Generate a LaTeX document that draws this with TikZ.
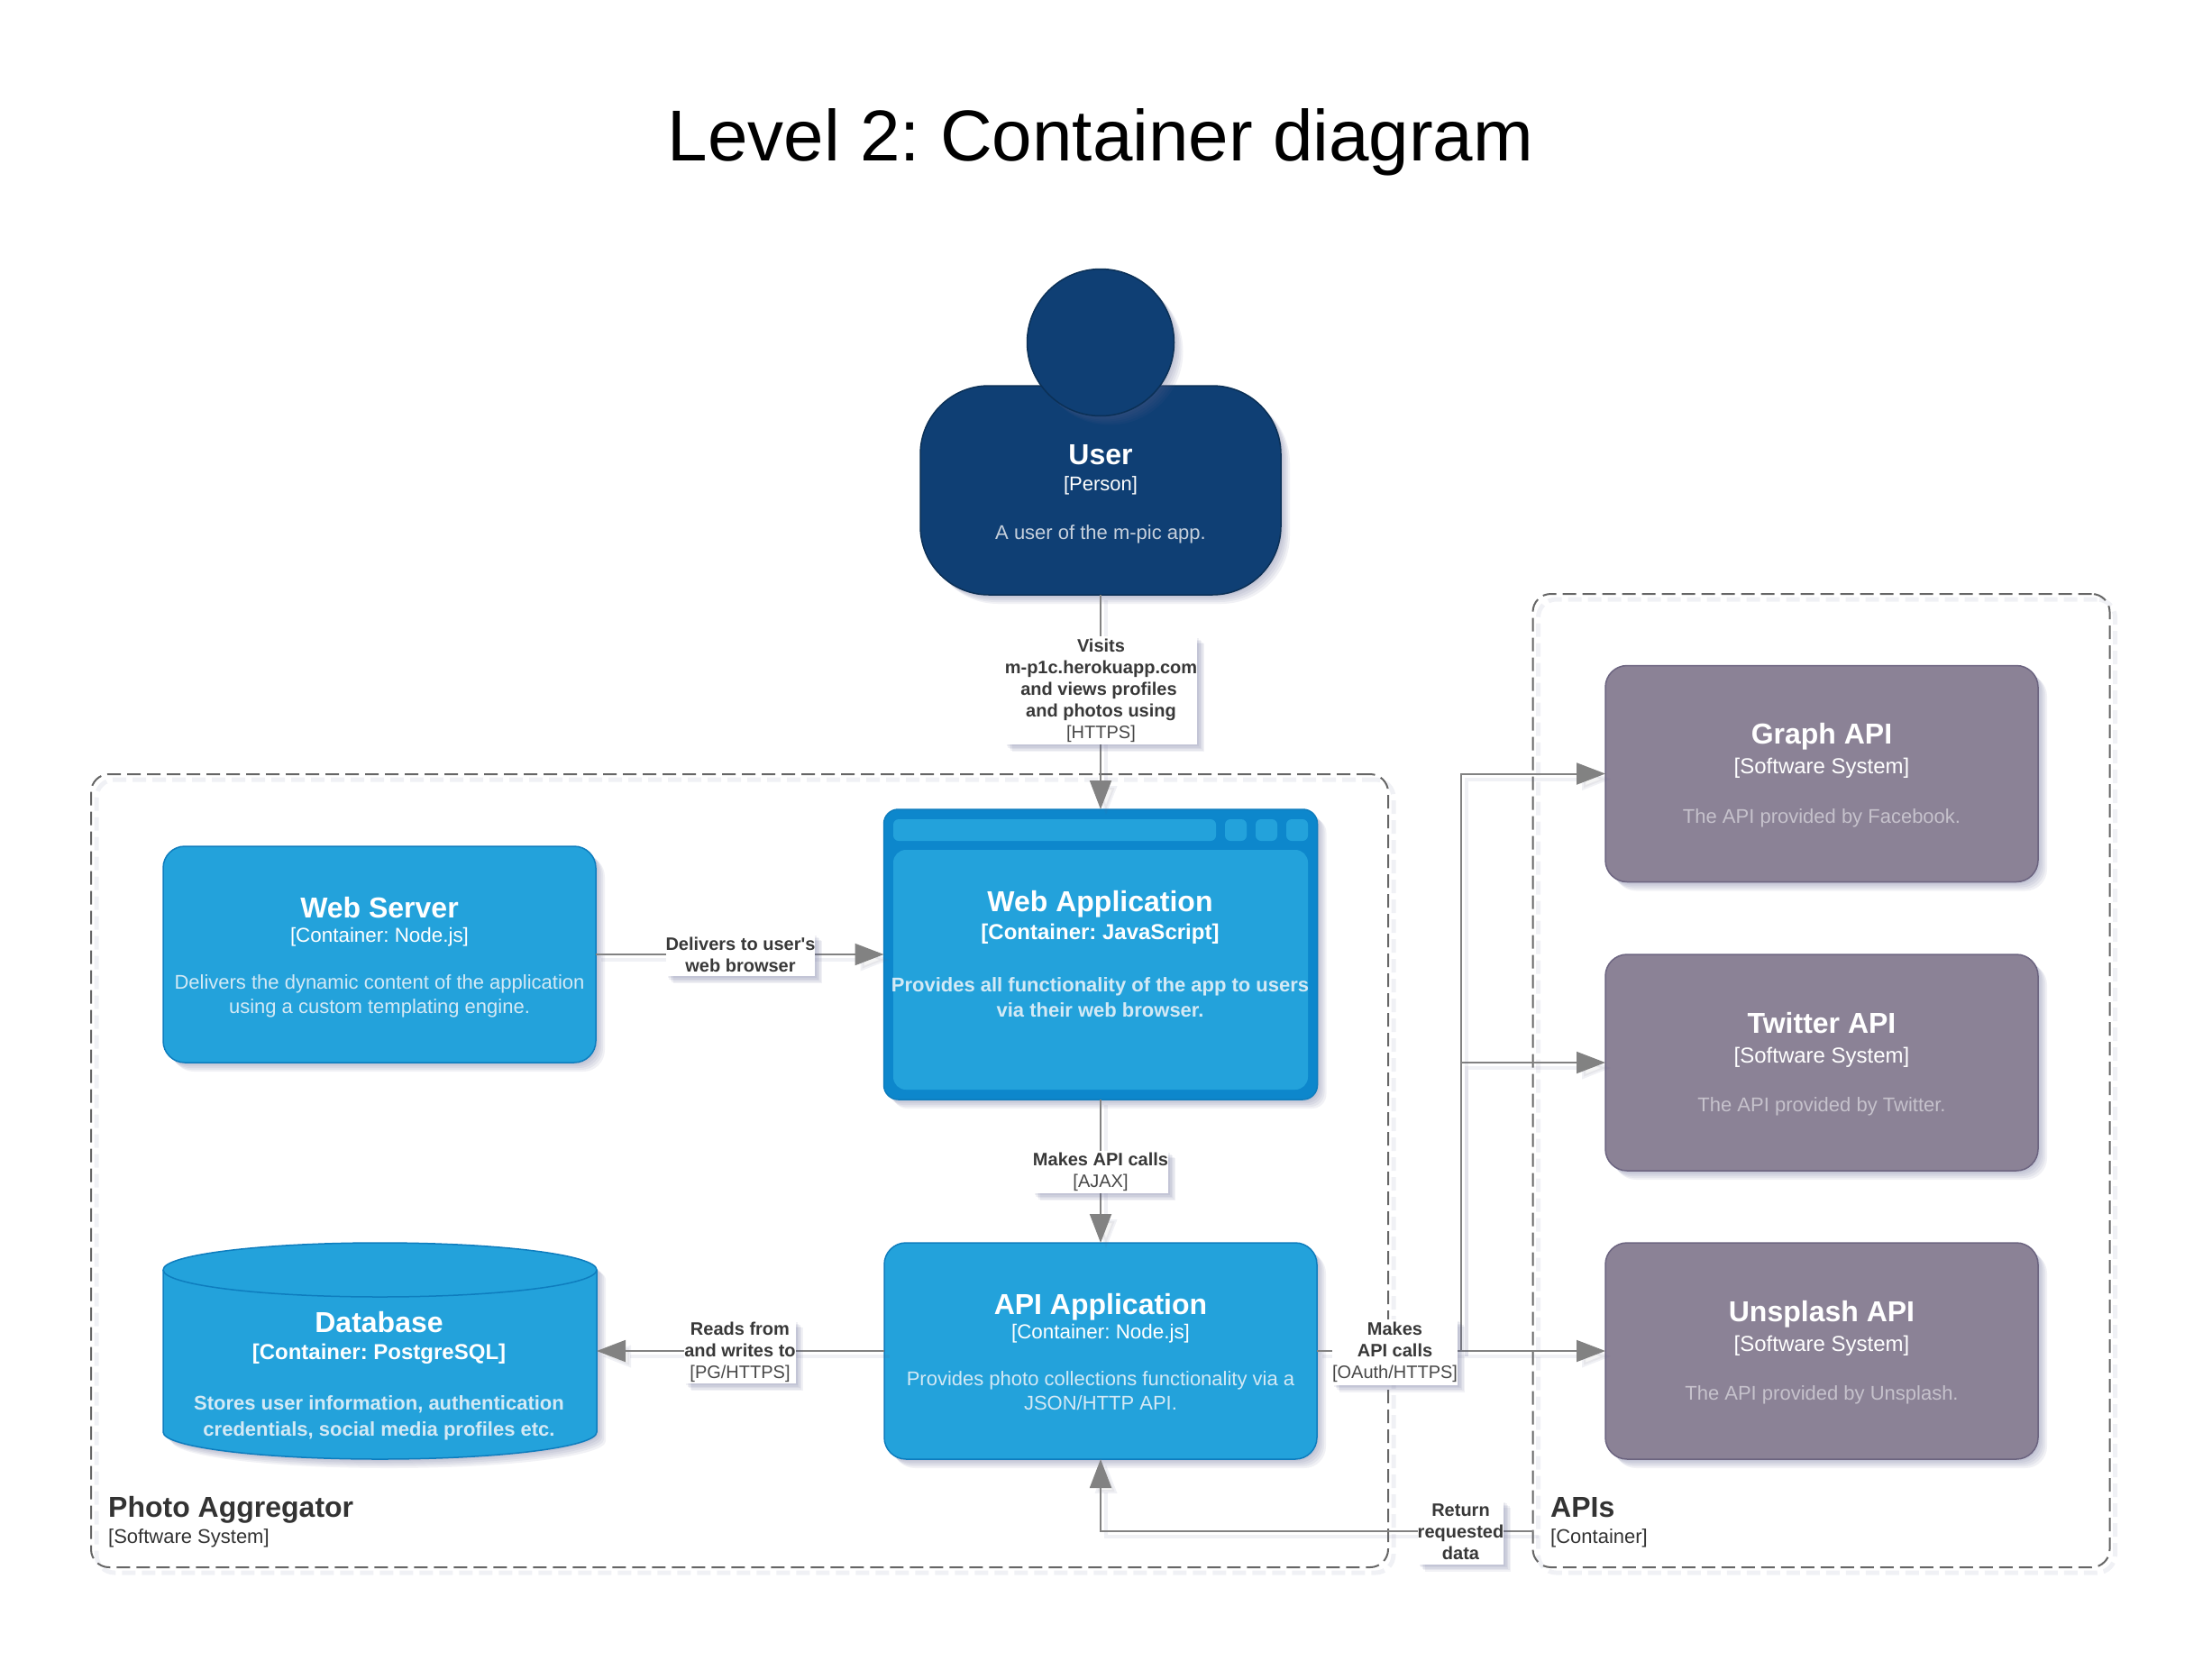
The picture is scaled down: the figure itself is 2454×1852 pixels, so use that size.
\documentclass[tikz,border=0pt]{standalone}
\usepackage{fontspec}
\setmainfont{Liberation Sans}
\newfontfamily\plainft{Liberation Sans}
\frenchspacing
\usetikzlibrary{arrows.meta,shapes.geometric,shadows,calc}
\definecolor{shc}{HTML}{5A5F8C}
\definecolor{linec}{HTML}{828282}
\definecolor{personfill}{HTML}{0F3F74}
\definecolor{personline}{HTML}{0B3056}
\definecolor{contfill}{HTML}{23A2DB}
\definecolor{contline}{HTML}{0E7DBE}
\definecolor{webouter}{HTML}{0D87CC}
\definecolor{extfill}{HTML}{8B8296}
\definecolor{extline}{HTML}{6C6480}
\definecolor{descblue}{HTML}{D3E9F5}
\definecolor{descpurple}{HTML}{C6C2CC}
\definecolor{descuser}{HTML}{C6D0DC}
\definecolor{lbltext}{HTML}{383838}
\definecolor{techtext}{HTML}{484848}
\definecolor{bndline}{HTML}{666666}
\definecolor{bndtext}{HTML}{333333}
\newcommand\ttlx[2][24pt]{{\fontsize{32}{38}\selectfont\bfseries\rule{0pt}{#1}#2}}
\newcommand\szr[2]{{\fontsize{#1}{28}\selectfont #2}}
\newcommand\szb[2]{{\fontsize{#1}{28}\selectfont\bfseries #2}}
\newcommand\lblb[1]{{\bfseries\color{lbltext}#1}}
\newcommand\lblt[1]{{\color{techtext}#1}}
\tikzset{
  shlayer/.style={general shadow={shadow xshift=#1,shadow yshift=-#1,fill=shc,draw=none,opacity=.085}},
  softsh/.style={shlayer=2pt,shlayer=4pt,shlayer=6pt,shlayer=8pt,shlayer=10pt},
  lblsh/.style={shlayer=2pt,shlayer=3.5pt,shlayer=5pt,shlayer=6.5pt,shlayer=8pt},
  basebox/.style={rectangle,outer sep=0pt,inner sep=0pt,line width=1.5pt,align=center,text=white,
    font=\fontsize{22}{28}\selectfont},
  contbox/.style={basebox,softsh,draw=contline,fill=contfill,rounded corners=24pt,minimum width=480pt,minimum height=240pt},
  extbox/.style={basebox,softsh,draw=extline,fill=extfill,rounded corners=24pt,minimum width=480pt,minimum height=240pt},
  freetext/.style={align=center,inner sep=0pt,text=white,font=\fontsize{22}{28}\selectfont},
  bndbox/.style={rectangle,outer sep=0pt,draw=bndline,line width=2pt,dash pattern=on 15pt off 7pt,rounded corners=20pt,
    general shadow={shadow xshift=6pt,shadow yshift=-6pt,draw=shc,opacity=.09,line width=5pt,fill=none}},
  bndtitle/.style={anchor=base west,inner sep=0pt,text=bndtext,font=\fontsize{32}{38}\selectfont\bfseries},
  bndsub/.style={anchor=base west,inner sep=0pt,text=bndtext,font=\fontsize{22}{26}\selectfont},
  edgelbl/.style={lblsh,rectangle,fill=white,inner sep=0pt,outer sep=0pt,align=center,
    font=\fontsize{20}{24}\selectfont},
  conn/.style={draw=linec,line width=2pt,-{Triangle[length=32pt,width=24pt,fill=linec]},
    general shadow={shadow xshift=6pt,shadow yshift=-6pt,draw=shc,opacity=.09,line width=4pt}},
  webpart/.style={rectangle,fill=contfill,draw=none,outer sep=0pt,inner sep=0pt,rounded corners=6pt},
}
\begin{document}
\begin{tikzpicture}[x=1pt,y=-1pt]
\useasboundingbox (0,0) rectangle (2454,1852);
% title
\node[anchor=center,inner sep=0pt,font=\fontsize{80}{90}\selectfont] (title) at (1221,158) {Level 2: Container diagram};
% boundaries
\node[bndbox,minimum width=1439pt,minimum height=880pt] (photo) at (820.5,1299) {};
\node[bndbox,minimum width=640pt,minimum height=1080pt] (apis) at (2020.5,1199) {};
\node[bndtitle] (photot) at (120,1683) {Photo Aggregator};
\node[bndsub] (photos) at (120,1712) {[Software System]};
\node[bndtitle] (apist) at (1720,1683) {APIs};
\node[bndsub] (apiss) at (1720,1712) {[Container]};
% shapes
\node[basebox,softsh,draw=personline,fill=personfill,rounded corners=76pt,minimum width=400pt,minimum height=232pt] (user) at (1221,544) {};
\node[ellipse,softsh,draw=personline,fill=personfill,line width=1.5pt,minimum width=163pt,minimum height=163pt,outer sep=0pt,inner sep=0pt] (userhead) at (1221,380) {};
\node[freetext] (usertext) at (1221,547.5)
  {\ttlx{User}\\[0.5pt]\szr{22}{[Person]}\\[26pt]{\color{descuser}A user of the m-pic app.}};

\node[contbox] (webserver) at (421,1059)
  {\ttlx[30pt]{Web Server}\\[-1.5pt]\szr{22.4}{[Container: Node.js]}\\[24pt]{\color{descblue}Delivers the dynamic content of the application}\\[-1pt]{\color{descblue}using a custom templating engine.}};

\node[basebox,softsh,draw=contline,fill=webouter,rounded corners=16pt,minimum width=481pt,minimum height=322pt] (webapp) at (1221,1059) {};
\node[webpart,minimum width=358pt,minimum height=24pt] (webbar) at (1170,921) {};
\node[webpart,minimum width=24pt,minimum height=24pt] (webbtna) at (1371,921) {};
\node[webpart,minimum width=24pt,minimum height=24pt] (webbtnb) at (1405,921) {};
\node[webpart,minimum width=24pt,minimum height=24pt] (webbtnc) at (1439,921) {};
\node[webpart,rounded corners=14pt,minimum width=460pt,minimum height=266pt] (webinner) at (1221,1076) {};
\node[freetext] (webtext) at (1220.5,1058.5)
  {\ttlx{Web Application}\\[2.5pt]\szb{24}{[Container: JavaScript]}\\[30.5pt]{\bfseries\color{descblue}Provides all functionality of the app to users}\\[0pt]{\bfseries\color{descblue}via their web browser.}};

\node[contbox] (api) at (1221,1499)
  {\ttlx[25pt]{API Application}\\[-1.5pt]\szr{22.4}{[Container: Node.js]}\\[24pt]{\color{descblue}Provides photo collections functionality via a}\\[-1pt]{\color{descblue}JSON/HTTP API.}};

\node[rectangle,draw=none,outer sep=0pt,inner sep=0pt,minimum width=481pt,minimum height=240pt] (db) at (421.5,1499) {};
\path[softsh,draw=contline,fill=contfill,line width=1.5pt]
  (181,1409) .. controls (181,1392.4) and (288.7,1379) .. (421.5,1379)
  .. controls (554.3,1379) and (662,1392.4) .. (662,1409) -- (662,1589)
  .. controls (662,1605.6) and (554.3,1619) .. (421.5,1619)
  .. controls (288.7,1619) and (181,1605.6) .. (181,1589) -- cycle;
\draw[contline,line width=1.5pt]
  (181,1409) .. controls (181,1425.6) and (288.7,1439) .. (421.5,1439)
  .. controls (554.3,1439) and (662,1425.6) .. (662,1409);
\node[freetext] (dbtext) at (420.5,1526)
  {\ttlx{Database}\\[2.5pt]\szb{24}{[Container: PostgreSQL]}\\[27.5pt]{\bfseries\color{descblue}Stores user information, authentication}\\[1pt]{\bfseries\color{descblue}credentials, social media profiles etc.}};

\foreach \n/\yy/\t/\d in {graph/858.5/Graph API/The API provided by Facebook.,twitter/1179/Twitter API/The API provided by Twitter.,unsplash/1499/Unsplash API/The API provided by Unsplash.}{
  \node[extbox] (\n) at (2021,\yy)
    {\ttlx[27pt]{\t}\\[5pt]\szr{24}{[Software System]}\\[26.5pt]{\color{descpurple}\d}};
}
% connectors
\coordinate (jct) at (1621,1499);
\coordinate (retstart) at (1701,1699);
\draw[conn] (user.south) -- (webapp.north);
\draw[conn] (webserver.east) -- (webapp.west);
\draw[conn] (webapp.south) -- (api.north);
\draw[conn] (api.west) -- (db.east);
\draw[conn] (api.east) -- (unsplash.west);
\draw[conn] (jct) |- (twitter.west);
\draw[conn] (jct) |- (graph.west);
\draw[conn] (retstart) -| (api.south);
% connector labels
\node[edgelbl,minimum width=213pt,minimum height=120pt] (lvisits) at (1221.5,766)
  {\lblb{Visits}\\\lblb{m-p1c.herokuapp.com}\\\lblb{and views profiles\hspace*{5pt}}\\\lblb{and photos using}\\\lblt{[HTTPS]}};
\node[edgelbl,minimum width=165pt,minimum height=47pt] (ldelivers) at (821.5,1059.5)
  {\lblb{Delivers to user{\plainft'}s}\\\lblb{web browser}};
\node[edgelbl,minimum width=150pt,minimum height=47pt] (lajax) at (1221,1300.5)
  {\lblb{Makes API calls}\\\lblt{[AJAX]}};
\node[edgelbl,minimum width=119pt,minimum height=70pt] (lreads) at (821,1500)
  {\lblb{Reads from}\\\lblb{and writes to}\\\lblt{[PG/HTTPS]}};
\node[edgelbl,minimum width=139pt,minimum height=73pt] (loauth) at (1547.5,1500)
  {\lblb{Makes}\\\lblb{API calls}\\\lblt{[OAuth/HTTPS]}};
\node[edgelbl,minimum width=95pt,minimum height=71pt] (lreturn) at (1620.5,1700)
  {\lblb{Return}\\\lblb{requested}\\\lblb{data}};
\end{tikzpicture}
\end{document}
